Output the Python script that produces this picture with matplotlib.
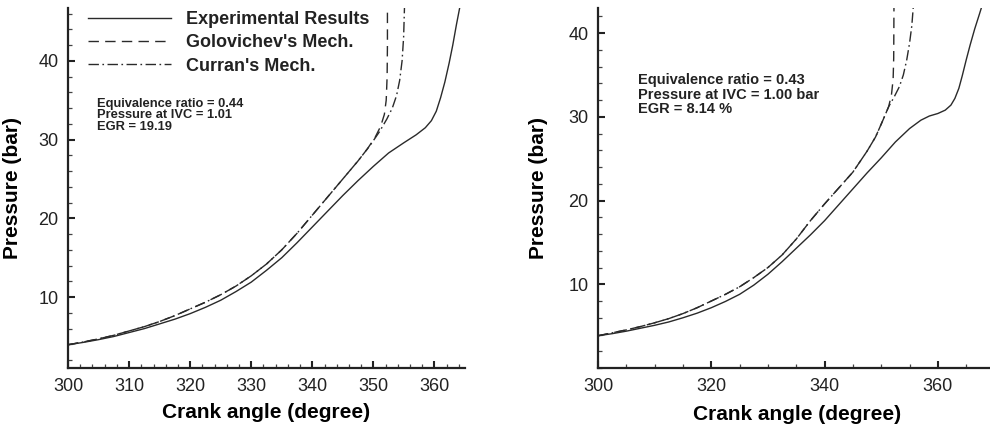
import matplotlib
matplotlib.use("Agg")
import matplotlib.pyplot as plt
from matplotlib.ticker import MultipleLocator, FixedLocator

plt.rcParams['font.family'] = ['Liberation Sans', 'DejaVu Sans']

# left case: EGR 19.19
exp_l_x = [300, 302.5, 305, 307.5, 310, 312.5, 315, 317.5, 320, 322.5, 325, 327.5, 330, 332.5,
           335, 337.5, 340, 342.5, 345, 347.5, 350, 352.5, 355, 357, 358.5, 359.5, 360.3, 361,
           361.7, 362.4, 363, 363.6, 364.2]
exp_l_y = [3.95, 4.25, 4.6, 5.0, 5.5, 6.0, 6.6, 7.2, 7.9, 8.7, 9.6, 10.7, 11.9, 13.4,
           15.0, 16.9, 18.9, 20.9, 22.9, 24.8, 26.6, 28.3, 29.6, 30.6, 31.5, 32.4, 33.6, 35.3,
           37.3, 39.7, 42.0, 44.6, 47.0]
gol_l_x = [300, 302.5, 305, 307.5, 310, 312.5, 315, 317.5, 320, 322.5, 325, 327.5, 330, 332.5,
           335, 337.5, 340, 342.5, 345, 347.5, 349, 350.3, 351.2, 351.8, 352.1, 352.25, 352.3, 352.3]
gol_l_y = [3.95, 4.3, 4.7, 5.15, 5.7, 6.25, 6.9, 7.65, 8.5, 9.35, 10.3, 11.4, 12.7, 14.2,
           16.0, 18.1, 20.4, 22.7, 25.0, 27.3, 28.8, 30.3, 31.7, 33.2, 35.0, 38.0, 42.0, 47.0]
cur_l_x = [300, 302.5, 305, 307.5, 310, 312.5, 315, 317.5, 320, 322.5, 325, 327.5, 330, 332.5,
           335, 337.5, 340, 342.5, 345, 347.5, 349.5, 351, 352.2, 353.1, 353.8, 354.3, 354.7,
           354.95, 355.1]
cur_l_y = [3.95, 4.3, 4.7, 5.15, 5.7, 6.25, 6.9, 7.65, 8.5, 9.35, 10.3, 11.4, 12.7, 14.2,
           16.0, 18.1, 20.4, 22.7, 25.0, 27.3, 29.3, 31.0, 32.6, 34.0, 35.6, 37.5, 40.0,
           43.0, 47.0]

# right case: EGR 8.14 %
exp_r_x = [300, 302.5, 305, 307.5, 310, 312.5, 315, 317.5, 320, 322.5, 325, 327.5, 330, 332.5,
           335, 337.5, 340, 342.5, 345, 347.5, 350, 352.5, 355, 357, 358.5, 360, 361.3, 362.3,
           363, 363.7, 364.3, 365, 365.7, 366.5, 367.3, 367.9]
exp_r_y = [3.85, 4.1, 4.4, 4.75, 5.1, 5.5, 6.0, 6.55, 7.2, 7.95, 8.8, 9.9, 11.2, 12.7,
           14.3, 15.9, 17.6, 19.5, 21.4, 23.3, 25.1, 27.0, 28.6, 29.6, 30.1, 30.4, 30.8, 31.4,
           32.2, 33.4, 34.9, 36.8, 38.6, 40.5, 42.2, 43.5]
gol_r_x = [300, 302.5, 305, 307.5, 310, 312.5, 315, 317.5, 320, 322.5, 325, 327.5, 330, 332.5,
           335, 337.5, 340, 342.5, 345, 347.5, 349, 350.3, 351.3, 351.8, 352.1, 352.2, 352.25]
gol_r_y = [3.85, 4.2, 4.55, 4.95, 5.4, 5.9, 6.5, 7.2, 8.0, 8.8, 9.7, 10.8, 12.0, 13.5,
           15.4, 17.6, 19.6, 21.5, 23.4, 25.9, 27.6, 29.6, 31.2, 32.6, 34.5, 37.0, 43.5]
cur_r_x = [300, 302.5, 305, 307.5, 310, 312.5, 315, 317.5, 320, 322.5, 325, 327.5, 330, 332.5,
           335, 337.5, 340, 342.5, 345, 347.5, 349, 350.3, 351.3, 352.3, 353.2, 353.9, 354.5,
           355.0, 355.4, 355.7]
cur_r_y = [3.85, 4.2, 4.55, 4.95, 5.4, 5.9, 6.5, 7.2, 8.0, 8.8, 9.7, 10.8, 12.0, 13.5,
           15.4, 17.6, 19.6, 21.5, 23.4, 25.9, 27.6, 29.6, 31.2, 32.4, 33.6, 35.0, 36.8,
           38.8, 40.9, 43.5]

labels = ["Experimental Results", "Golovichev's Mech.", "Curran's Mech."]
note_l = "Equivalence ratio = 0.44\nPressure at IVC = 1.01\nEGR = 19.19"
note_r = "Equivalence ratio = 0.43\nPressure at IVC = 1.00 bar\nEGR = 8.14 %"

LC = '#2a2a2a'

fig = plt.figure(figsize=(9.9, 4.26), dpi=100)
ax1 = fig.add_axes([68 / 990, 58 / 426, 397 / 990, 360 / 426])
ax2 = fig.add_axes([598 / 990, 58 / 426, 392 / 990, 360 / 426])


def draw(ax, ex, ey, gx, gy, cx, cy):
    ax.plot(ex, ey, color=LC, lw=1.0, label=labels[0])
    l2, = ax.plot(gx, gy, color=LC, lw=1.0, label=labels[1])
    l2.set_dashes([7.5, 4.5])
    l3, = ax.plot(cx, cy, color=LC, lw=1.0, label=labels[2])
    l3.set_dashes([7.5, 2.5, 1.2, 2.5])
    for s in ['top', 'right']:
        ax.spines[s].set_visible(False)
    for s in ['left', 'bottom']:
        ax.spines[s].set_linewidth(1.6)
        ax.spines[s].set_color('#222222')
    ax.tick_params(which='major', direction='in', length=5, width=1.5, labelsize=13,
                   colors='#222222', pad=7)
    ax.tick_params(which='minor', direction='in', length=3, width=0.9, colors='#444444')
    ax.yaxis.set_major_locator(FixedLocator([10, 20, 30, 40]))
    ax.yaxis.set_minor_locator(MultipleLocator(2))
    ax.set_ylabel('Pressure (bar)', fontsize=15, fontweight='bold')
    ax.set_xlabel('Crank angle (degree)', fontsize=15, fontweight='bold')


draw(ax1, exp_l_x, exp_l_y, gol_l_x, gol_l_y, cur_l_x, cur_l_y)
ax1.set_xlim(300, 365)
ax1.set_ylim(1, 46.7)
ax1.xaxis.set_major_locator(MultipleLocator(10))
ax1.xaxis.set_minor_locator(MultipleLocator(2))
ax1.yaxis.set_label_coords(-0.116, 0.5)
ax1.xaxis.set_label_coords(0.5, -0.097)
ax1.text(304.7, 35.3, note_l, fontsize=9.3, fontweight='bold', va='top', ha='left',
         linespacing=0.95, color='#222222')
leg = ax1.legend(loc='upper left', bbox_to_anchor=(0.033, 1.012), frameon=False,
                 fontsize=13, handlelength=4.6, handletextpad=0.8, labelspacing=0.35,
                 borderaxespad=0, borderpad=0.4)
for t in leg.get_texts():
    t.set_fontweight('bold')
    t.set_color('#222222')

draw(ax2, exp_r_x, exp_r_y, gol_r_x, gol_r_y, cur_r_x, cur_r_y)
ax2.set_xlim(300, 369.2)
ax2.set_ylim(0, 43)
ax2.xaxis.set_major_locator(MultipleLocator(20))
ax2.xaxis.set_minor_locator(MultipleLocator(5))
ax2.yaxis.set_label_coords(-0.128, 0.5)
ax2.xaxis.set_label_coords(0.508, -0.103)
ax2.text(307.1, 35.2, note_r, fontsize=10.5, fontweight='bold', va='top', ha='left',
         linespacing=1.05, color='#222222')

fig.savefig('out.png', dpi=100)
